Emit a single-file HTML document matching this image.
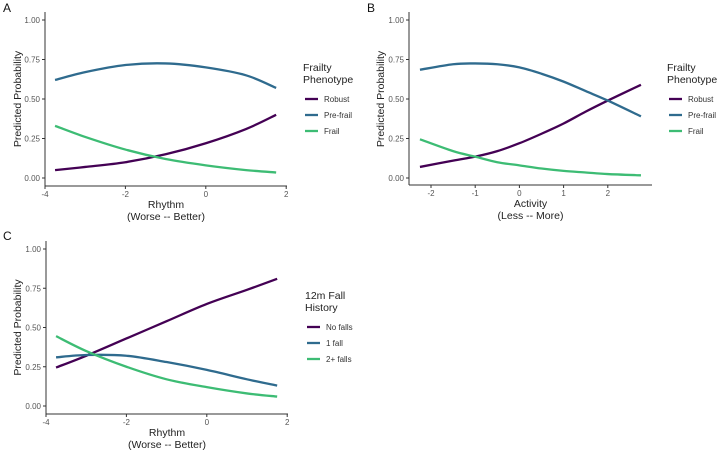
<!DOCTYPE html>
<html><head><meta charset="utf-8"><style>
html,body{margin:0;padding:0;background:#fff;}
svg{display:block;font-family:"Liberation Sans",sans-serif;}
</style></head><body>
<svg id="fig" width="720" height="452" viewBox="0 0 720 452"></svg>
<script>
// Panel A data (Rhythm)
const aX = [-3.75, -3, -2, -1, 0, 1, 1.75];
const aRobust = [0.05, 0.07, 0.10, 0.15, 0.22, 0.31, 0.40];
const aPrefrail = [0.62, 0.67, 0.715, 0.725, 0.70, 0.65, 0.57];
const aFrail = [0.33, 0.26, 0.18, 0.12, 0.08, 0.05, 0.035];
const aXTicks = [-4, -2, 0, 2];
// Panel B data (Activity)
const bX = [-2.25, -1.5, -1, -0.5, 0, 0.5, 1, 1.5, 2, 2.75];
const bRobust = [0.07, 0.11, 0.135, 0.17, 0.22, 0.28, 0.345, 0.42, 0.49, 0.59];
const bPrefrail = [0.685, 0.72, 0.725, 0.72, 0.70, 0.66, 0.61, 0.55, 0.49, 0.39];
const bFrail = [0.245, 0.17, 0.135, 0.10, 0.08, 0.06, 0.045, 0.035, 0.025, 0.017];
const bXTicks = [-2, -1, 0, 1, 2];
// Panel C data (Rhythm, fall history)
const cX = [-3.75, -3, -2, -1, 0, 1, 1.75];
const cNoFalls = [0.245, 0.32, 0.43, 0.54, 0.65, 0.74, 0.81];
const cOneFall = [0.31, 0.325, 0.32, 0.28, 0.23, 0.17, 0.13];
const cTwoFalls = [0.445, 0.35, 0.25, 0.17, 0.12, 0.08, 0.06];
const cXTicks = [-4, -2, 0, 2];
const yTicks = [0, 0.25, 0.5, 0.75, 1];
const yTickLabels = ["0.00", "0.25", "0.50", "0.75", "1.00"];

const NS = "http://www.w3.org/2000/svg";
const svg = document.getElementById("fig");
const COLS = ["#440154", "#2f6b8e", "#3dbc74"];

function mk(tag, attrs, parent, text) {
  const e = document.createElementNS(NS, tag);
  for (const k in attrs) e.setAttribute(k, attrs[k]);
  if (text !== undefined) e.textContent = text;
  (parent || svg).appendChild(e);
  return e;
}

function smoothPath(pts) {
  let d = "M" + pts[0][0].toFixed(2) + "," + pts[0][1].toFixed(2);
  for (let i = 0; i < pts.length - 1; i++) {
    const p0 = pts[i - 1] || pts[i], p1 = pts[i], p2 = pts[i + 1], p3 = pts[i + 2] || p2;
    const c1 = [p1[0] + (p2[0] - p0[0]) / 6, p1[1] + (p2[1] - p0[1]) / 6];
    const c2 = [p2[0] - (p3[0] - p1[0]) / 6, p2[1] - (p3[1] - p1[1]) / 6];
    d += "C" + c1.map(v => v.toFixed(2)).join(",") + " " + c2.map(v => v.toFixed(2)).join(",") + " " + p2[0].toFixed(2) + "," + p2[1].toFixed(2);
  }
  return d;
}

function panel(cfg) {
  const g = mk("g", {});
  
  
  const sx = v => cfg.x0 + (v - cfg.xmin) * cfg.xs;
  const sy = v => cfg.y0 - v * (cfg.y0 - cfg.y1);
  const lab = mk("text", {x: cfg.lx, y: cfg.ly, "font-size": 12, fill: "#111"}, g, cfg.label);
  
  
  // axes
  const ya = mk("line", {x1: cfg.ax, y1: cfg.y1 - 8, x2: cfg.ax, y2: cfg.axY, stroke: "#333", "stroke-width": 1}, g);
  
  
  const xa = mk("line", {x1: cfg.ax, y1: cfg.axY, x2: cfg.axEnd, y2: cfg.axY, stroke: "#333", "stroke-width": 1}, g);
  
  
  yTicks.forEach((t, i) => {
    const y = sy(t);
    mk("line", {x1: cfg.ax - 3, y1: y, x2: cfg.ax, y2: y, stroke: "#333"}, g);
    const tl = mk("text", {x: cfg.ax - 5, y: y + 3, "font-size": 8, fill: "#555", "text-anchor": "end"}, g, yTickLabels[i]);
    
    
  });
  cfg.xticks.forEach(t => {
    const x = sx(t);
    mk("line", {x1: x, y1: cfg.axY, x2: x, y2: cfg.axY + 3, stroke: "#333"}, g);
    const tl = mk("text", {x: x, y: cfg.axY + 11, "font-size": 8, fill: "#555", "text-anchor": "middle"}, g, String(t));
    
    
  });
  const cx = (cfg.ax + cfg.axEnd) / 2;
  const xt = mk("text", {x: cx, y: cfg.axY + 22, "font-size": 10.5, fill: "#222", "text-anchor": "middle"}, g, cfg.xtitle1);
  
  
  const xt2 = mk("text", {x: cx, y: cfg.axY + 34, "font-size": 10.5, fill: "#222", "text-anchor": "middle"}, g, cfg.xtitle2);
  
  
  const ymid = (cfg.y0 + cfg.y1) / 2;
  const yt = mk("text", {x: 0, y: 0, "font-size": 10.5, fill: "#222", "text-anchor": "middle", transform: "translate(" + cfg.ytx + "," + ymid + ") rotate(-90)"}, g, "Predicted Probability");
  
  
  // series
  cfg.series.forEach((s, i) => {
    const pts = cfg.xs_data.map((v, j) => [sx(v), sy(s.vals[j])]);
    const p = mk("path", {d: smoothPath(pts), fill: "none", stroke: COLS[i], "stroke-width": 2.3, "stroke-linecap": "butt"}, g);
    
    
  });
  // legend
  const lg = mk("g", {}, g);
  
  
  mk("text", {x: cfg.legX, y: cfg.legY, "font-size": 10.5, fill: "#222"}, lg, cfg.legT1);
  mk("text", {x: cfg.legX, y: cfg.legY + 12, "font-size": 10.5, fill: "#222"}, lg, cfg.legT2);
  cfg.series.forEach((s, i) => {
    const y = cfg.legY + 28 + i * 16;
    const e = mk("g", {}, lg);
    
    
    mk("line", {x1: cfg.legX + 2, y1: y, x2: cfg.legX + 15, y2: y, stroke: COLS[i], "stroke-width": 2.3}, e);
    mk("text", {x: cfg.legX + 21, y: y + 3, "font-size": 8, fill: "#333"}, e, s.name);
  });
}

panel({name: "panel-a", label: "A", lx: 3, ly: 12, ax: 45, axEnd: 287, axY: 186, x0: 45, xmin: -4, xs: 40.2, y0: 178, y1: 20,
  xticks: aXTicks, xs_data: aX, xtitle1: "Rhythm", xtitle2: "(Worse -- Better)", ytx: 21,
  series: [{key: "robust", name: "Robust", vals: aRobust}, {key: "pre-frail", name: "Pre-frail", vals: aPrefrail}, {key: "frail", name: "Frail", vals: aFrail}],
  legX: 303, legY: 71, legT1: "Frailty", legT2: "Phenotype"});
panel({name: "panel-b", label: "B", lx: 367, ly: 12, ax: 409, axEnd: 652, axY: 185, x0: 431, xmin: -2, xs: 44.2, y0: 178, y1: 20,
  xticks: bXTicks, xs_data: bX, xtitle1: "Activity", xtitle2: "(Less -- More)", ytx: 384,
  series: [{key: "robust", name: "Robust", vals: bRobust}, {key: "pre-frail", name: "Pre-frail", vals: bPrefrail}, {key: "frail", name: "Frail", vals: bFrail}],
  legX: 667, legY: 71, legT1: "Frailty", legT2: "Phenotype"});
panel({name: "panel-c", label: "C", lx: 3, ly: 240, ax: 46, axEnd: 288, axY: 414, x0: 46, xmin: -4, xs: 40.2, y0: 406, y1: 249,
  xticks: cXTicks, xs_data: cX, xtitle1: "Rhythm", xtitle2: "(Worse -- Better)", ytx: 21,
  series: [{key: "no-falls", name: "No falls", vals: cNoFalls}, {key: "one-fall", name: "1 fall", vals: cOneFall}, {key: "two-plus-falls", name: "2+ falls", vals: cTwoFalls}],
  legX: 305, legY: 299, legT1: "12m Fall", legT2: "History"});
</script>
</body></html>
